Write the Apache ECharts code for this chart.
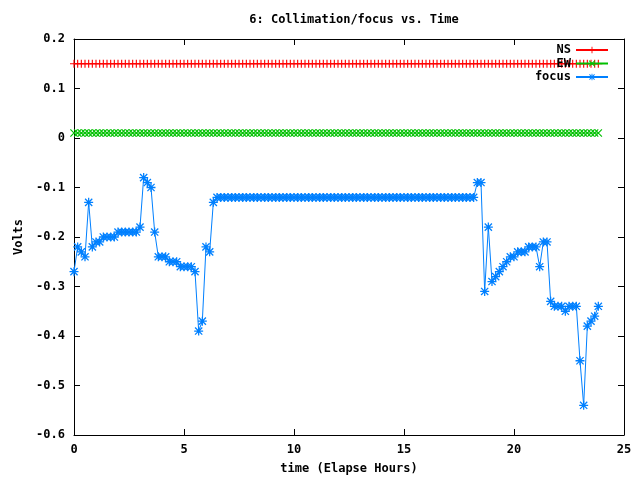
<!DOCTYPE html>
<html>
<head>
<meta charset="utf-8">
<script src="https://cdn.jsdelivr.net/npm/echarts@6/dist/echarts.min.js"></script>
<style>
  html, body { margin: 0; padding: 0; background: #fff; }
  #chart { width: 640px; height: 480px; }
</style>
</head>
<body>
<div id="chart"></div>
<script>
// sample clock: one reading every 10 minutes (hours)
var STEP = 1 / 6
var N = 144

// NS collimation (V)
var ns = [
  0.15, 0.15, 0.15, 0.15, 0.15, 0.15,  0.15, 0.15, 0.15, 0.15, 0.15, 0.15,
  0.15, 0.15, 0.15, 0.15, 0.15, 0.15,  0.15, 0.15, 0.15, 0.15, 0.15, 0.15,
  0.15, 0.15, 0.15, 0.15, 0.15, 0.15,  0.15, 0.15, 0.15, 0.15, 0.15, 0.15,
  0.15, 0.15, 0.15, 0.15, 0.15, 0.15,  0.15, 0.15, 0.15, 0.15, 0.15, 0.15,
  0.15, 0.15, 0.15, 0.15, 0.15, 0.15,  0.15, 0.15, 0.15, 0.15, 0.15, 0.15,
  0.15, 0.15, 0.15, 0.15, 0.15, 0.15,  0.15, 0.15, 0.15, 0.15, 0.15, 0.15,
  0.15, 0.15, 0.15, 0.15, 0.15, 0.15,  0.15, 0.15, 0.15, 0.15, 0.15, 0.15,
  0.15, 0.15, 0.15, 0.15, 0.15, 0.15,  0.15, 0.15, 0.15, 0.15, 0.15, 0.15,
  0.15, 0.15, 0.15, 0.15, 0.15, 0.15,  0.15, 0.15, 0.15, 0.15, 0.15, 0.15,
  0.15, 0.15, 0.15, 0.15, 0.15, 0.15,  0.15, 0.15, 0.15, 0.15, 0.15, 0.15,
  0.15, 0.15, 0.15, 0.15, 0.15, 0.15,  0.15, 0.15, 0.15, 0.15, 0.15, 0.15,
  0.15, 0.15, 0.15, 0.15, 0.15, 0.15,  0.15, 0.15, 0.15, 0.15, 0.15, 0.15
]

// EW collimation (V)
var ew = [
  0.01, 0.01, 0.01, 0.01, 0.01, 0.01,  0.01, 0.01, 0.01, 0.01, 0.01, 0.01,
  0.01, 0.01, 0.01, 0.01, 0.01, 0.01,  0.01, 0.01, 0.01, 0.01, 0.01, 0.01,
  0.01, 0.01, 0.01, 0.01, 0.01, 0.01,  0.01, 0.01, 0.01, 0.01, 0.01, 0.01,
  0.01, 0.01, 0.01, 0.01, 0.01, 0.01,  0.01, 0.01, 0.01, 0.01, 0.01, 0.01,
  0.01, 0.01, 0.01, 0.01, 0.01, 0.01,  0.01, 0.01, 0.01, 0.01, 0.01, 0.01,
  0.01, 0.01, 0.01, 0.01, 0.01, 0.01,  0.01, 0.01, 0.01, 0.01, 0.01, 0.01,
  0.01, 0.01, 0.01, 0.01, 0.01, 0.01,  0.01, 0.01, 0.01, 0.01, 0.01, 0.01,
  0.01, 0.01, 0.01, 0.01, 0.01, 0.01,  0.01, 0.01, 0.01, 0.01, 0.01, 0.01,
  0.01, 0.01, 0.01, 0.01, 0.01, 0.01,  0.01, 0.01, 0.01, 0.01, 0.01, 0.01,
  0.01, 0.01, 0.01, 0.01, 0.01, 0.01,  0.01, 0.01, 0.01, 0.01, 0.01, 0.01,
  0.01, 0.01, 0.01, 0.01, 0.01, 0.01,  0.01, 0.01, 0.01, 0.01, 0.01, 0.01,
  0.01, 0.01, 0.01, 0.01, 0.01, 0.01,  0.01, 0.01, 0.01, 0.01, 0.01, 0.01
]

// focus (V), one row per hour
var focus = [
  -0.27, -0.22, -0.23, -0.24, -0.13, -0.22,   // 0h
  -0.21, -0.21, -0.20, -0.20, -0.20, -0.20,   // 1h
  -0.19, -0.19, -0.19, -0.19, -0.19, -0.19,   // 2h
  -0.18, -0.08, -0.09, -0.10, -0.19, -0.24,   // 3h
  -0.24, -0.24, -0.25, -0.25, -0.25, -0.26,   // 4h
  -0.26, -0.26, -0.26, -0.27, -0.39, -0.37,   // 5h
  -0.22, -0.23, -0.13, -0.12, -0.12, -0.12,   // 6h
  -0.12, -0.12, -0.12, -0.12, -0.12, -0.12,   // 7h
  -0.12, -0.12, -0.12, -0.12, -0.12, -0.12,   // 8h
  -0.12, -0.12, -0.12, -0.12, -0.12, -0.12,   // 9h
  -0.12, -0.12, -0.12, -0.12, -0.12, -0.12,   // 10h
  -0.12, -0.12, -0.12, -0.12, -0.12, -0.12,   // 11h
  -0.12, -0.12, -0.12, -0.12, -0.12, -0.12,   // 12h
  -0.12, -0.12, -0.12, -0.12, -0.12, -0.12,   // 13h
  -0.12, -0.12, -0.12, -0.12, -0.12, -0.12,   // 14h
  -0.12, -0.12, -0.12, -0.12, -0.12, -0.12,   // 15h
  -0.12, -0.12, -0.12, -0.12, -0.12, -0.12,   // 16h
  -0.12, -0.12, -0.12, -0.12, -0.12, -0.12,   // 17h
  -0.12, -0.12, -0.09, -0.09, -0.31, -0.18,   // 18h
  -0.29, -0.28, -0.27, -0.26, -0.25, -0.24,   // 19h
  -0.24, -0.23, -0.23, -0.23, -0.22, -0.22,   // 20h
  -0.22, -0.26, -0.21, -0.21, -0.33, -0.34,   // 21h
  -0.34, -0.34, -0.35, -0.34, -0.34, -0.34,   // 22h
  -0.45, -0.54, -0.38, -0.37, -0.36, -0.34    // 23h
]

var xTicks = [0, 25, 5]          // min, max, interval
var yTicks = [-0.6, 0.2, 0.1]

var hours = []
for (var i = 0; i < N; i++) hours.push(i * STEP)

function pairs(vals) {
  return vals.map(function (v, i) { return [hours[i], v] })
}

var FONT = 'DejaVu Sans Mono'
var plusPath = 'path://M0,4.3H10V5.7H0Z M4.3,0H5.7V10H4.3Z'
var crossPath = 'path://M0,1L1,0L10,9L9,10Z M9,0L10,1L1,10L0,9Z'
var starPath = 'path://M0,4.3H10V5.7H0Z M4.3,0H5.7V10H4.3Z M0.5,1.5L1.5,0.5L9.5,8.5L8.5,9.5Z M8.5,0.5L9.5,1.5L1.5,9.5L0.5,8.5Z'

var labelStyle = { color: '#000', fontFamily: FONT, fontSize: 12, fontWeight: 'bold' }
var tickStyle = { inside: true, length: 6, lineStyle: { color: '#000' } }
var lineStyleAx = { onZero: false, lineStyle: { color: '#000', width: 1 } }

var myChart = echarts.init(document.getElementById('chart'), null, { renderer: 'canvas' })
var option = {
  animation: false,
  backgroundColor: '#fff',
  title: {
    text: '6: Collimation/focus vs. Time',
    left: 349,
    top: 9,
    textAlign: 'center',
    textStyle: labelStyle
  },
  legend: {
    orient: 'vertical',
    right: 26,
    top: 39,
    align: 'right',
    itemWidth: 32,
    itemHeight: 8,
    itemGap: 1.5,
    textStyle: labelStyle,
    data: ['NS', 'EW', 'focus']
  },
  grid: { left: 74, right: 16, top: 39, bottom: 42, containLabel: false },
  xAxis: [{
    type: 'value',
    min: xTicks[0], max: xTicks[1], interval: xTicks[2],
    name: 'time (Elapse Hours)',
    nameLocation: 'middle',
    nameGap: 28,
    nameTextStyle: labelStyle,
    axisLine: lineStyleAx,
    axisTick: tickStyle,
    axisLabel: Object.assign({ margin: 9 }, labelStyle),
    splitLine: { show: false }
  }, {
    type: 'value',
    position: 'top',
    min: xTicks[0], max: xTicks[1], interval: xTicks[2],
    axisLine: lineStyleAx,
    axisTick: tickStyle,
    axisLabel: { show: false },
    splitLine: { show: false }
  }],
  yAxis: [{
    type: 'value',
    min: yTicks[0], max: yTicks[1], interval: yTicks[2],
    name: 'Volts',
    nameLocation: 'middle',
    nameGap: 42,
    nameRotate: 90,
    nameTextStyle: labelStyle,
    axisLine: Object.assign({ show: true }, lineStyleAx),
    axisTick: Object.assign({ show: true }, tickStyle),
    axisLabel: Object.assign({ margin: 9, formatter: function (v) { return +v.toFixed(1) + '' } }, labelStyle),
    splitLine: { show: false }
  }, {
    type: 'value',
    position: 'right',
    min: yTicks[0], max: yTicks[1], interval: yTicks[2],
    axisLine: Object.assign({ show: true }, lineStyleAx),
    axisTick: Object.assign({ show: true }, tickStyle),
    axisLabel: { show: false },
    splitLine: { show: false }
  }],
  series: [{
    name: 'NS',
    type: 'line',
    data: pairs(ns),
    symbol: plusPath,
    symbolSize: 8,
    showAllSymbol: true,
    color: '#ff0000',
    lineStyle: { width: 1, color: '#ff0000' },
    itemStyle: { color: '#ff0000' }
  }, {
    name: 'EW',
    type: 'line',
    data: pairs(ew),
    symbol: crossPath,
    symbolSize: 8,
    showAllSymbol: true,
    color: '#00c000',
    lineStyle: { width: 1, color: '#00c000' },
    itemStyle: { color: '#00c000' }
  }, {
    name: 'focus',
    type: 'line',
    data: pairs(focus),
    symbol: starPath,
    symbolSize: 9,
    showAllSymbol: true,
    color: '#0080ff',
    lineStyle: { width: 1, color: '#0080ff' },
    itemStyle: { color: '#0080ff' }
  }]
}
myChart.setOption(option)
</script>
</body>
</html>
